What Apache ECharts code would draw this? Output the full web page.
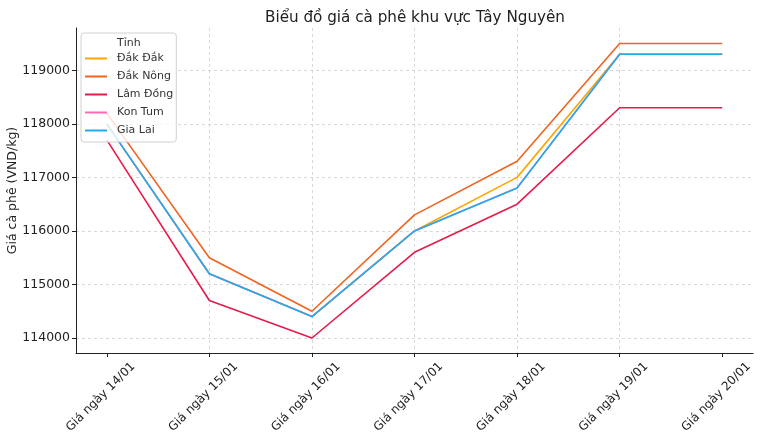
<!DOCTYPE html>
<html><head><meta charset="utf-8">
<script src="https://cdn.jsdelivr.net/npm/echarts@6/dist/echarts.min.js"></script>
<style>html,body{margin:0;padding:0;background:#fff}#c{width:770px;height:439px}</style>
</head><body><div id="c"></div>
<script>
const categories = ['Giá ngày 14/01','Giá ngày 15/01','Giá ngày 16/01','Giá ngày 17/01','Giá ngày 18/01','Giá ngày 19/01','Giá ngày 20/01'];
const dakDak  = [118000, 115200, 114400, 116000, 117000, 119300, 119300];
const dakNong = [118200, 115500, 114500, 116300, 117300, 119500, 119500];
const lamDong = [117700, 114700, 114000, 115600, 116500, 118300, 118300];
const konTum  = [118000, 115200, 114400, 116000, 116800, 119300, 119300];
const giaLai  = [118000, 115200, 114400, 116000, 116800, 119300, 119300];
const seriesNames = ['Đắk Đắk','Đắk Nông','Lâm Đồng','Kon Tum','Gia Lai'];
const seriesColors = ['#FFA500','#EE6420','#E8194B','#FF69B4','#1EAEF0'];
const seriesData = [dakDak, dakNong, lamDong, konTum, giaLai];
const FONT = 'DejaVu Sans';

const chart = echarts.init(document.getElementById('c'), null, {renderer:'canvas'});
chart.setOption({
  animation:false,
  textStyle:{fontFamily:FONT},
  title:[
    {text:'Biểu đồ giá cà phê khu vực Tây Nguyên', left:260, top:6, textStyle:{fontFamily:FONT,fontSize:15.2,fontWeight:'normal',color:'#222'}},
    {text:'Tỉnh', left:112, top:33, textStyle:{fontFamily:FONT,fontSize:11,fontWeight:'normal',color:'#333'}, z:10}
  ],
  legend:{
    orient:'vertical', left:81, top:33,
    padding:[20,3,6,4],
    backgroundColor:'rgba(255,255,255,0.8)', borderColor:'#d0d0d0', borderWidth:1, borderRadius:3,
    icon:'rect', itemWidth:22, itemHeight:2, itemGap:7,
    textStyle:{fontFamily:FONT,fontSize:11,color:'#333',padding:[0,0,0,5]},
    data:seriesNames
  },
  grid:{left:76, right:17, top:28, bottom:86, outerBoundsMode:'none', containLabel:false},
  xAxis:{
    type:'value', min:-0.3, max:6.3, splitNumber:6,
    axisLine:{show:true,onZero:false,lineStyle:{color:'#222',width:1}},
    axisTick:{show:true,length:4,lineStyle:{color:'#222'}, customValues:[0,1,2,3,4,5,6]},
    axisLabel:{fontFamily:FONT,fontSize:12,color:'#222',rotate:45,margin:38,align:'center',verticalAlign:'middle',
      padding:[0,17,0,0],
      customValues:[0,1,2,3,4,5,6],
      formatter:function(v){return Number.isInteger(v)?categories[v]:'';}},
    splitLine:{show:true,showMinLine:false,showMaxLine:false,lineStyle:{color:'#cfcfcf',type:[3,3],width:0.8}}
  },
  yAxis:{
    type:'value', min:113720, max:119790, splitNumber:6,
    name:'Giá cà phê (VND/kg)', nameLocation:'middle', nameGap:57, nameMoveOverlap:false,
    nameTextStyle:{fontFamily:FONT,fontSize:12.5,color:'#222'},
    axisLine:{show:true,onZero:false,lineStyle:{color:'#222',width:1}},
    axisTick:{show:true,length:4,lineStyle:{color:'#222'}},
    axisLabel:{fontFamily:FONT,fontSize:12.5,color:'#222',margin:6,showMinLabel:false,showMaxLabel:false,
      formatter:function(v){return String(v);}},
    splitLine:{show:true,showMinLine:false,showMaxLine:false,lineStyle:{color:'#cfcfcf',type:[3,3],width:0.8}}
  },
  series: seriesNames.map((n,i)=>({
    name:n, type:'line', showSymbol:false, symbol:'none',
    color:seriesColors[i],
    lineStyle:{width:1.6,color:seriesColors[i]},
    data: seriesData[i].map((v,j)=>[j,v])
  }))
});
</script></body></html>
